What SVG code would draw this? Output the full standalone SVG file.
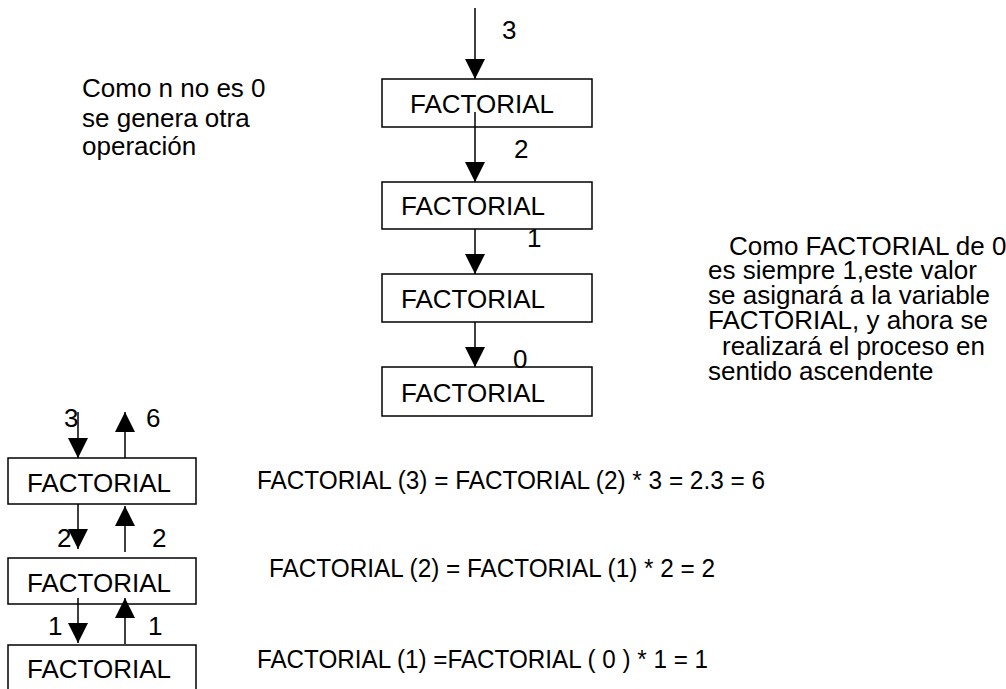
<svg xmlns="http://www.w3.org/2000/svg" width="1006" height="689" viewBox="0 0 1006 689">
  <style>
    text { font-family: "Liberation Sans", Arial, sans-serif; fill: #000; }
    .box { fill: #fff; stroke: #000; stroke-width: 1.5; }
    .lbl { font-size: 26px; }
    .note { font-size: 26px; }
    .eq { font-size: 26px; }
    .arrow { stroke: #000; stroke-width: 1.5; fill: none; marker-end: url(#head); }
  </style>
  <defs>
    <marker id="head" viewBox="0 0 20 20" refX="20" refY="10" markerWidth="20" markerHeight="20" markerUnits="userSpaceOnUse" orient="auto">
      <path d="M0,0 L20,10 L0,20 z" fill="#000"/>
    </marker>
  </defs>
  <rect width="1006" height="689" fill="#fff"/>

  <!-- descending chain -->
  <g id="f3"><rect class="box" x="382" y="79" width="210" height="48"/><text class="lbl" x="410" y="113">FACTORIAL</text></g>
  <g id="f2"><rect class="box" x="382" y="182" width="210" height="47"/><text class="lbl" x="401" y="215">FACTORIAL</text></g>
  <g id="f1"><rect class="box" x="382" y="274" width="210" height="48"/><text class="lbl" x="401" y="308">FACTORIAL</text></g>
  <g id="f0"><rect class="box" x="382" y="367" width="210" height="49"/><text class="lbl" x="401" y="402">FACTORIAL</text></g>

  <!-- ascending stack -->
  <g id="s3"><rect class="box" x="8" y="458" width="188" height="46"/><text class="lbl" x="27" y="492">FACTORIAL</text></g>
  <g id="s2"><rect class="box" x="8" y="558" width="188" height="46"/><text class="lbl" x="27" y="592">FACTORIAL</text></g>
  <g id="s1"><rect class="box" x="8" y="645" width="188" height="60"/><text class="lbl" x="27" y="678">FACTORIAL</text></g>

  <g id="connectors">
    <line class="arrow" x1="475" y1="8" x2="475" y2="79"/>
    <line class="arrow" x1="475" y1="112" x2="475" y2="182"/>
    <line class="arrow" x1="475" y1="229" x2="475" y2="274"/>
    <line class="arrow" x1="475" y1="322" x2="475" y2="367"/>

    <line class="arrow" x1="78" y1="412" x2="78" y2="458"/>
    <line class="arrow" x1="125" y1="458" x2="125" y2="412"/>
    <line class="arrow" x1="78" y1="504" x2="78" y2="549"/>
    <line class="arrow" x1="125" y1="552" x2="125" y2="506"/>
    <line class="arrow" x1="78" y1="598" x2="78" y2="643"/>
    <line class="arrow" x1="125" y1="644" x2="125" y2="598"/>

    <text class="lbl" x="502" y="39">3</text>
    <text class="lbl" x="514" y="158">2</text>
    <text class="lbl" x="527" y="247">1</text>
    <text class="lbl" x="513" y="368">0</text>

    <text class="lbl" x="64" y="427">3</text>
    <text class="lbl" x="146" y="427">6</text>
    <text class="lbl" x="57" y="547">2</text>
    <text class="lbl" x="152" y="547">2</text>
    <text class="lbl" x="48" y="635">1</text>
    <text class="lbl" x="148" y="635">1</text>
  </g>

  <!-- notes -->
  <text id="note-left" class="note">
    <tspan x="82" y="97">Como n no es 0</tspan>
    <tspan x="82" y="127">se genera otra</tspan>
    <tspan x="82" y="155">operación</tspan>
  </text>
  <text id="note-right" class="note">
    <tspan x="729" y="255">Como FACTORIAL de 0</tspan>
    <tspan x="708" y="279">es siempre 1,este valor</tspan>
    <tspan x="708" y="304">se asignará a la variable</tspan>
    <tspan x="708" y="329">FACTORIAL, y ahora se</tspan>
    <tspan x="722" y="355">realizará el proceso en</tspan>
    <tspan x="708" y="380">sentido ascendente</tspan>
  </text>

  <!-- equations -->
  <g id="equations">
    <text class="eq" x="257" y="489" textLength="508" lengthAdjust="spacingAndGlyphs">FACTORIAL (3) = FACTORIAL (2) * 3 = 2.3 = 6</text>
    <text class="eq" x="269" y="577" textLength="446" lengthAdjust="spacingAndGlyphs">FACTORIAL (2) = FACTORIAL (1) * 2 = 2</text>
    <text class="eq" x="257" y="668" textLength="451" lengthAdjust="spacingAndGlyphs">FACTORIAL (1) =FACTORIAL ( 0 ) * 1 = 1</text>
  </g>
</svg>
